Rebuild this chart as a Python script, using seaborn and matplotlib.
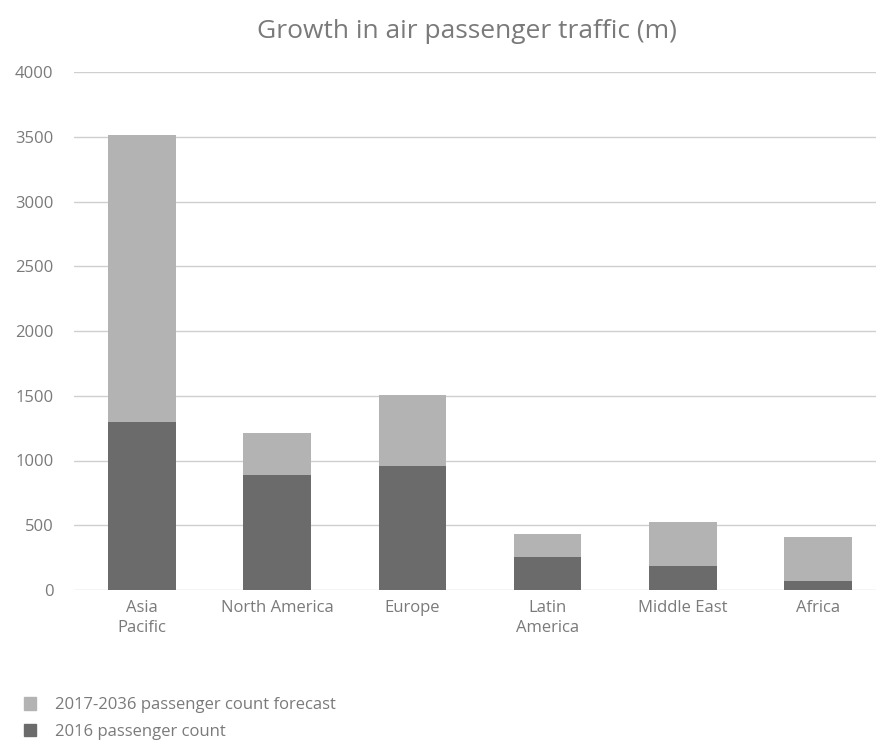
import numpy as np
import pandas as pd
import seaborn as sns
from matplotlib import pyplot as plt
from matplotlib.patches import Patch

# data (millions of passengers)
regions = ['Asia\nPacific', 'North America', 'Europe', 'Latin\nAmerica', 'Middle East', 'Africa']
count_2016 = [1300, 885, 955, 258, 183, 73]
forecast_total = [3515, 1212, 1502, 432, 527, 410]

series_names = ['2017-2036 passenger count forecast', '2016 passenger count']
light = '#b3b3b3'
dark = '#6b6b6b'
text_col = '#7a7a7a'

df = pd.DataFrame({'region': regions, 'y2016': count_2016, 'forecast': forecast_total})

sns.set_style('white')
plt.rcParams['font.family'] = ['Open Sans', 'DejaVu Sans']

fig = plt.figure(figsize=(8.76, 7.49), dpi=100)
W, H = 876, 749
left_px, right_px = 74.4, 876
ax = fig.add_axes([left_px / W, (H - 590) / H, (right_px - left_px) / W, (590 - 72) / H])

sns.barplot(df, x='region', y='forecast', color=light, width=0.5, saturation=1,
            linewidth=0, ax=ax, zorder=2)
sns.barplot(df, x='region', y='y2016', color=dark, width=0.5, saturation=1,
            linewidth=0, ax=ax, zorder=3)

ax.set_ylim(0, 4000)
ax.set_xlim(-0.5, -0.5 + (right_px - left_px) / 135.2)
ax.set_yticks(np.arange(0, 4001, 500))
ax.yaxis.grid(True, color='#cfcfcf', linewidth=1)
ax.set_axisbelow(True)
for s in ax.spines.values():
    s.set_visible(False)
ax.tick_params(axis='both', length=0, labelsize=12, colors=text_col)
ax.tick_params(axis='y', pad=15)
ax.tick_params(axis='x', pad=7)
for lbl in ax.get_xticklabels():
    lbl.set_linespacing(1.35)
ax.set_xlabel('')
ax.set_ylabel('')

fig.text(467 / W, 1 - 31 / H, 'Growth in air passenger traffic (m)', ha='center', va='center',
         fontsize=19, color=text_col)

handles = [Patch(color=light), Patch(color=dark)]
fig.legend(handles, series_names, loc='upper left', bbox_to_anchor=(0.01, 0.089), frameon=False,
           handlelength=0.75, handleheight=0.75, handletextpad=1.1, labelspacing=0.65,
           fontsize=12, labelcolor=text_col)

fig.savefig('out.png', dpi=100)
